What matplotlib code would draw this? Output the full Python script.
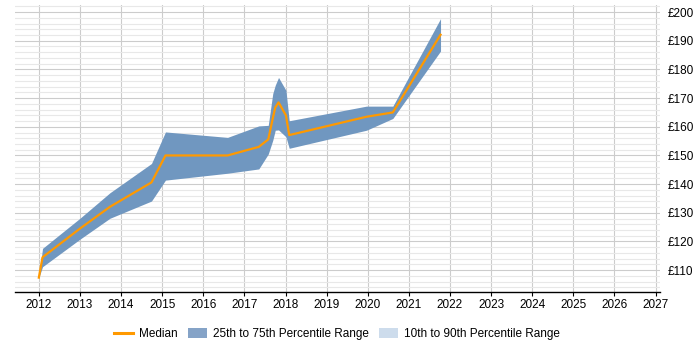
import matplotlib
matplotlib.use("Agg")
import matplotlib.pyplot as plt
from matplotlib.patches import Patch
from matplotlib.lines import Line2D
import numpy as np

plt.rcParams['font.family'] = ['Liberation Sans', 'DejaVu Sans']

# data
years = [2012.0, 2012.09, 2013.0, 2013.73, 2014.74, 2015.08, 2016.59, 2017.35,
         2017.58, 2017.69, 2017.75, 2017.83, 2018.01, 2018.09, 2019.97, 2020.61, 2021.77]
median = [107.4, 114.5, 124.5, 132.1, 140.6, 150.0, 150.0, 153.0,
          155.6, 162.9, 166.7, 168.5, 164.0, 157.1, 163.5, 165.0, 192.1]
p75 = [107.4, 117.6, 128.1, 137.0, 147.2, 158.2, 156.3, 160.3,
       160.5, 171.6, 174.5, 177.2, 172.7, 162.1, 167.2, 167.2, 197.7]
p25 = [107.4, 111.2, 120.8, 128.1, 134.1, 141.4, 143.8, 145.3,
       150.5, 155.3, 158.8, 158.9, 156.5, 152.5, 158.8, 162.9, 186.4]

year_ticks = list(range(2012, 2028))
price_ticks = list(range(110, 201, 10))
price_labels = ['£%d' % v for v in price_ticks]

band_col = '#7097c0'
light_col = '#cddcec'
med_col = '#ff9900'

fig = plt.figure(figsize=(7, 3.5), dpi=100)
ax = fig.add_axes([0.0214, 0.165, 0.921, 0.821])

ax.fill_between(years, p25, p75, color=band_col, lw=0, zorder=2)
ax.plot(years, median, color=med_col, lw=1.6, zorder=3)

ax.set_xlim(2011.42, 2027.1)
ax.set_ylim(102.3, 202.5)

ax.set_xticks(year_ticks)
ax.set_xticklabels([str(y) for y in year_ticks], fontsize=8.5)
ax.set_yticks(price_ticks)
ax.set_yticklabels(price_labels, fontsize=8.5)
ax.set_yticks(np.arange(104, 203, 2), minor=True)
ax.yaxis.tick_right()
ax.tick_params(axis='y', which='both', length=0, pad=6)
ax.tick_params(axis='x', length=3, color='black', pad=1.5)

ax.grid(axis='x', color='#cccccc', lw=0.8, zorder=0)
ax.grid(axis='y', which='major', color='#cccccc', lw=0.8, zorder=0)
ax.grid(axis='y', which='minor', color='#e8e8e8', lw=0.8, zorder=0)

for s in ['top', 'left', 'right']:
    ax.spines[s].set_visible(False)
ax.spines['bottom'].set_color('black')
ax.spines['bottom'].set_linewidth(1)

handles = [Line2D([0], [0], color=med_col, lw=2.2),
           Patch(facecolor='#85a3c7', edgecolor='none'),
           Patch(facecolor=light_col, edgecolor='none')]
labels = ['Median', '25th to 75th Percentile Range', '10th to 90th Percentile Range']
fig.legend(handles, labels, loc='center', bbox_to_anchor=(0.4816, 0.046), ncol=3,
           frameon=False, fontsize=8.5, handlelength=1.64, handleheight=0.85,
           columnspacing=0.85, handletextpad=0.5, borderpad=0)

fig.savefig('out.png', dpi=100)
